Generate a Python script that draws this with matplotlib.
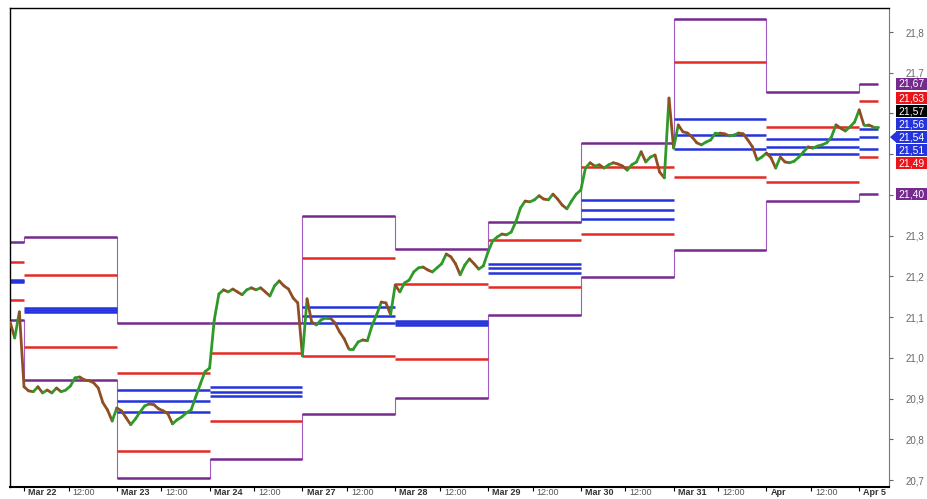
import matplotlib
matplotlib.use('Agg')
import matplotlib.pyplot as plt
import matplotlib.transforms as mtransforms
from matplotlib.collections import LineCollection
from matplotlib.patches import Rectangle, Polygon
import numpy as np

plt.rcParams['font.family'] = ['Liberation Sans', 'DejaVu Sans']

# sessions on the time axis, one unit per trading day
day_labels = ['Mar 22', 'Mar 23', 'Mar 24', 'Mar 27', 'Mar 28', 'Mar 29',
              'Mar 30', 'Mar 31', 'Apr', 'Apr 5']
y_ticks = [20.7, 20.8, 20.9, 21.0, 21.1, 21.2, 21.3, 21.4, 21.5, 21.6, 21.7, 21.8]

# pivot levels per session: Mar 21 (tail only), Mar 22 ... Apr, Apr 5
r2 = [21.285, 21.297, 21.086, 21.086, 21.348, 21.267, 21.334, 21.528, 21.832, 21.653, 21.673]
r1 = [21.236, 21.204, 20.963, 21.012, 21.245, 21.182, 21.290, 21.469, 21.726, 21.567, 21.631]
pivot_top = [21.191, 21.123, 20.921, 20.929, 21.125, 21.091, 21.231, 21.388, 21.587, 21.537, 21.563]
pivot_mid = [21.189, 21.118, 20.894, 20.917, 21.103, 21.086, 21.221, 21.363, 21.547, 21.518, 21.542]
pivot_bot = [21.187, 21.113, 20.867, 20.907, 21.086, 21.081, 21.209, 21.341, 21.513, 21.501, 21.514]
s1 = [21.142, 21.027, 20.772, 20.845, 21.005, 20.998, 21.174, 21.304, 21.444, 21.432, 21.493]
s2 = [21.093, 20.946, 20.706, 20.752, 20.863, 20.902, 21.106, 21.199, 21.265, 21.385, 21.402]

# intraday prices, 20 bars per session
bars_per_day = 20
price_mar21_tail = [21.088, 21.049, 21.113]  # last 3 bars of Mar 21
price_days = [
    [20.929, 20.919, 20.917, 20.929, 20.914, 20.921, 20.914, 20.926, 20.917, 20.921,
     20.931, 20.951, 20.953, 20.946, 20.944, 20.939, 20.926, 20.890, 20.872, 20.845],
    [20.877, 20.870, 20.853, 20.836, 20.850, 20.867, 20.882, 20.887, 20.885, 20.875,
     20.870, 20.863, 20.838, 20.848, 20.855, 20.865, 20.872, 20.904, 20.936, 20.966],
    [20.975, 21.093, 21.157, 21.167, 21.162, 21.169, 21.162, 21.155, 21.167, 21.172,
     21.167, 21.172, 21.162, 21.152, 21.177, 21.189, 21.177, 21.169, 21.147, 21.135],
    [21.005, 21.145, 21.088, 21.081, 21.093, 21.098, 21.098, 21.086, 21.064, 21.047,
     21.022, 21.022, 21.039, 21.044, 21.042, 21.079, 21.106, 21.137, 21.135, 21.106],
    [21.179, 21.162, 21.184, 21.191, 21.211, 21.221, 21.223, 21.216, 21.211, 21.221,
     21.231, 21.255, 21.248, 21.231, 21.204, 21.228, 21.243, 21.231, 21.218, 21.226],
    [21.260, 21.287, 21.297, 21.304, 21.302, 21.309, 21.334, 21.368, 21.385, 21.383,
     21.388, 21.398, 21.390, 21.388, 21.402, 21.390, 21.375, 21.366, 21.385, 21.402],
    [21.412, 21.466, 21.479, 21.471, 21.474, 21.466, 21.474, 21.479, 21.476, 21.471,
     21.461, 21.474, 21.481, 21.506, 21.481, 21.493, 21.498, 21.456, 21.442, 21.638],
    [21.515, 21.572, 21.555, 21.552, 21.542, 21.528, 21.523, 21.530, 21.535, 21.552,
     21.552, 21.550, 21.545, 21.547, 21.552, 21.550, 21.535, 21.518, 21.486, 21.493],
    [21.503, 21.491, 21.466, 21.493, 21.481, 21.479, 21.483, 21.493, 21.506, 21.518,
     21.515, 21.520, 21.523, 21.528, 21.542, 21.572, 21.564, 21.557, 21.567, 21.579],
]
price_apr5 = [21.609, 21.572, 21.572, 21.567, 21.567]

PURPLE = '#752a8e'
PURPLE_V = '#a35cc2'
RED = '#e52a25'
BLUE = '#2433dc'
UP = '#2f9a2a'
DOWN = '#8f4f22'

# build the time / price series
t, p = [], []
n0 = bars_per_day - len(price_mar21_tail)
for i, v in enumerate(price_mar21_tail):
    t.append(-1 + (n0 + i) / bars_per_day)
    p.append(v)
for d, day in enumerate(price_days):
    for i, v in enumerate(day):
        t.append(d + i / bars_per_day)
        p.append(v)
for i, v in enumerate(price_apr5):
    t.append(len(price_days) + i / bars_per_day)
    p.append(v)
t = np.array(t)
p = np.array(p)

W, H = 927, 499
fig = plt.figure(figsize=(W / 100, H / 100), dpi=100)
ax = fig.add_axes([10 / W, 12 / H, 879 / W, 479 / H])
xmin, xmax = -0.151, 9.321
ymin, ymax = 20.683, 21.859
ax.set_xlim(xmin, xmax)
ax.set_ylim(ymin, ymax)

# pivot levels, one horizontal per session
n_sess = len(r2)
for j in range(n_sess):
    x0 = max(j - 1, xmin)
    x1 = t[-1] if j == n_sess - 1 else j
    for vals, col in [(r2, PURPLE), (s2, PURPLE), (r1, RED), (s1, RED),
                      (pivot_top, BLUE), (pivot_mid, BLUE), (pivot_bot, BLUE)]:
        ax.plot([x0, x1], [vals[j], vals[j]], color=col, lw=1.8,
                solid_capstyle='butt', zorder=2)
    if j > 0:
        for vals in (r2, s2):
            ax.plot([j - 1, j - 1], [vals[j - 1], vals[j]], color=PURPLE_V, lw=0.8, zorder=1)

# price line, green on up moves, brown on down moves
pts = np.column_stack([t, p])
segs = np.stack([pts[:-1], pts[1:]], axis=1)
cols = [UP if b >= a else DOWN for a, b in zip(p[:-1], p[1:])]
ax.add_collection(LineCollection(segs, colors=cols, linewidths=2.0, zorder=4,
                                 capstyle='round', joinstyle='round'))

# spines
for side in ['top', 'left']:
    ax.spines[side].set_color('black')
    ax.spines[side].set_linewidth(1)
ax.spines['bottom'].set_linewidth(1.5)
ax.spines['right'].set_color('#777777')

# value boxes for the last session on the right axis
box_vals = [r2[-1], r1[-1], p[-1], pivot_top[-1], pivot_mid[-1], pivot_bot[-1], s1[-1], s2[-1]]
box_cols = [PURPLE, '#e8161c', 'black', BLUE, BLUE, BLUE, '#e8161c', PURPLE]
anchor = 4
px_per_unit = 479 / (ymax - ymin)
gap = 13 / px_per_unit
pos = list(box_vals)
for i in range(anchor - 1, -1, -1):
    pos[i] = max(box_vals[i], pos[i + 1] + gap)
for i in range(anchor + 1, len(pos)):
    pos[i] = min(box_vals[i], pos[i - 1] - gap)
bh = 11.5 / px_per_unit

# y axis on the right with comma decimals; ticks hidden under a box get no label
ax.yaxis.tick_right()
ax.set_yticks(y_ticks)
ylabels = []
for v in y_ticks:
    covered = any(abs(v - y) < bh / 2 + 3 / px_per_unit for y in pos)
    ylabels.append('' if covered else f'{v:.1f}'.replace('.', ','))
ax.set_yticklabels(ylabels)
ax.tick_params(axis='y', direction='out', length=3, color='#666666',
               labelsize=7, labelcolor='#666666', pad=9)

# x axis: session starts and 12:00 marks, label sits right of its tick
ax.set_xticks(range(len(day_labels)))
ax.set_xticklabels(day_labels, fontweight='bold')
ax.set_xticks([k + 0.48 for k in range(len(day_labels) - 1)], minor=True)
ax.set_xticklabels(['12:00'] * (len(day_labels) - 1), minor=True)
ax.tick_params(axis='x', which='both', direction='out', length=3, width=0.8,
               labelsize=6.5, pad=-2.5)
ax.tick_params(axis='x', which='major', labelcolor='#333333')
ax.tick_params(axis='x', which='minor', labelcolor='#555555')
shift = mtransforms.ScaledTranslation(3 / 72, 0, fig.dpi_scale_trans)
for lab in ax.get_xticklabels() + ax.get_xticklabels(minor=True):
    lab.set_horizontalalignment('left')
    lab.set_transform(lab.get_transform() + shift)

bt = mtransforms.blended_transform_factory(ax.transAxes, ax.transData)
bx0 = 1 + 7 / 879
bw = 40 / 879
for v, y, c in zip(box_vals, pos, box_cols):
    ax.add_patch(Rectangle((bx0, y - bh / 2), bw, bh, transform=bt, facecolor=c,
                           edgecolor='none', clip_on=False, zorder=6))
    ax.text(bx0 + 2 / 879, y, f'{v:.2f}'.replace('.', ','), transform=bt, color='white',
            fontsize=7.5, ha='left', va='center', clip_on=False, zorder=7)
ya = pos[anchor]
ax.add_patch(Polygon([(1 + 1 / 879, ya), (bx0 + 0.5 / 879, ya + bh / 2), (bx0 + 0.5 / 879, ya - bh / 2)],
                     closed=True, transform=bt, facecolor=box_cols[anchor],
                     edgecolor='none', clip_on=False, zorder=6))

fig.savefig('out.png', dpi=100)
